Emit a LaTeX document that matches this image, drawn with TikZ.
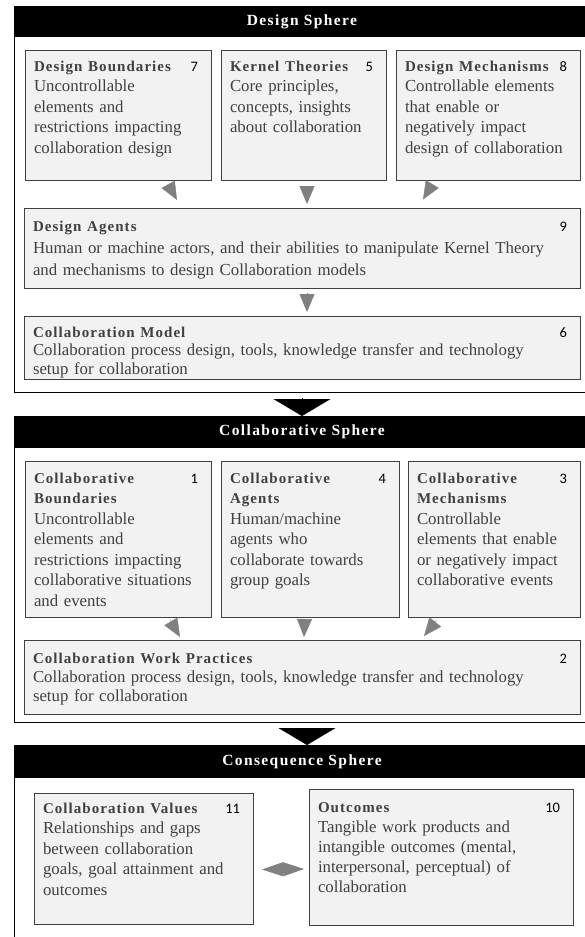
\documentclass[tikz,border=0pt]{standalone}
\usepackage{fontspec}
\setmainfont{Liberation Serif}[WordSpace=1.6]
\newfontfamily\titlefont{Liberation Serif}[LetterSpace=7, WordSpace=1.3]
\newfontfamily\headfont{Liberation Serif}[LetterSpace=9]
\newfontfamily\numfont{Carlito}
\usetikzlibrary{positioning, calc}
\usetikzlibrary{arrows.meta}
\tikzset{>={Triangle[length=18pt,width=15pt]}}

\definecolor{cardfill}{HTML}{F2F2F2}
\definecolor{cardline}{HTML}{404040}
\definecolor{cardtext}{HTML}{404040}
\definecolor{arrowgray}{HTML}{808080}

\newcommand{\cardtitle}[1]{{\titlefont\bfseries\fontsize{15}{20}\selectfont #1}}
\newcommand{\cardnum}[1]{\hfill\llap{\numfont\fontsize{14.5}{20}\selectfont\color{black}#1\hspace{4pt}}}

\begin{document}
\begin{tikzpicture}[x=1pt, y=-1pt, sphere/.style={draw=black, line width=0.8pt, anchor=north west, minimum width=576pt, inner sep=0pt, outer sep=0pt}, spherehead/.style={fill=black, text=white, anchor=north west, minimum width=576pt, inner sep=0pt, outer sep=0pt, font=\headfont\bfseries\fontsize{15.5}{18}\selectfont}, card/.style={draw=cardline, fill=cardfill, line width=0.9pt, anchor=north west, inner xsep=9pt, inner ysep=0pt, outer sep=0pt, align=left, text=cardtext, font=\fontsize{16.8}{20.5}\selectfont}, spherearrow/.style={-{Triangle[length=17pt,width=57pt]}, black}]

    \useasboundingbox (0,0) rectangle (585,937);
    \clip (0,0) rectangle (585,937);

    %Spheres
    \node[sphere, minimum height=386pt](dframe) at (14,6){};
    \node[spherehead, minimum height=31pt](dhead) at (14,6){Design Sphere};
    \node[sphere, minimum height=306pt](cframe) at (14,416){};
    \node[spherehead, minimum height=32pt](chead) at (14,416){Collaborative Sphere};
    \node[sphere, minimum height=230pt](qframe) at (14,745){};
    \node[spherehead, minimum height=33pt](qhead) at (14,745){Consequence Sphere};

    %Nodes
    \node[card, text width=168pt, text height=21pt, text depth=109pt](bound) at (25,50){\cardtitle{Design Boundaries}\cardnum{7}\\ Uncontrollable\\ elements and\\ restrictions impacting\\ collaboration design};
    \node[card, right=10pt of bound, text width=147pt, text height=21pt, text depth=109pt](kernel){\cardtitle{Kernel Theories}\cardnum{5}\\ Core principles,\\ concepts, insights\\ about collaboration};
    \node[card, right=10pt of kernel, text width=166pt, text height=21pt, text depth=109pt](mech){\cardtitle{Design Mechanisms}\cardnum{8}\\ Controllable elements\\ that enable or\\ negatively impact\\ design of collaboration};
    \node[card, text width=538pt, text height=23pt, text depth=57pt, font=\fontsize{16.8}{22}\selectfont](agents) at (24,208){\cardtitle{Design Agents}\cardnum{9}\\ Human or machine actors, and their abilities to manipulate Kernel Theory\\ and mechanisms to design Collaboration models};
    \node[card, text width=538pt, text height=21pt, text depth=42pt, font=\fontsize{16.8}{18.5}\selectfont](model) at (24,316){\cardtitle{Collaboration Model}\cardnum{6}\\ Collaboration process design, tools, knowledge transfer and technology\\ setup for collaboration};

    \node[card, text width=168pt, text height=22pt, text depth=134pt](cbound) at (25,461){\cardtitle{Collaborative}\cardnum{1}\\ \cardtitle{Boundaries}\\ Uncontrollable\\ elements and\\ restrictions impacting\\ collaborative situations\\ and events};
    \node[card, right=10pt of cbound, text width=160pt, text height=22pt, text depth=134pt](cagents){\cardtitle{Collaborative}\cardnum{4}\\ \cardtitle{Agents}\\ Human/machine\\ agents who\\ collaborate towards\\ group goals};
    \node[card, right=9pt of cagents, text width=154pt, text height=22pt, text depth=134pt](cmech){\cardtitle{Collaborative}\cardnum{3}\\ \cardtitle{Mechanisms}\\ Controllable\\ elements that enable\\ or negatively impact\\ collaborative events};
    \node[card, text width=538pt, text height=23pt, text depth=51pt, font=\fontsize{16.8}{19}\selectfont](practice) at (24,640){\cardtitle{Collaboration Work Practices}\cardnum{2}\\ Collaboration process design, tools, knowledge transfer and technology\\ setup for collaboration};

    \node[card, text width=201pt, text height=20pt, text depth=111pt](values) at (34,793){\cardtitle{Collaboration Values}\cardnum{11}\\ Relationships and gaps\\ between collaboration\\ goals, goal attainment and\\ outcomes};
    \node[card, text width=246pt, text height=23pt, text depth=113pt, font=\fontsize{16.8}{20}\selectfont](outcomes) at (309,789){\cardtitle{Outcomes}\cardnum{10}\\ Tangible work products and\\ intangible outcomes (mental,\\ interpersonal, perceptual) of\\ collaboration};

    %Lines
    \draw[->, arrowgray] ($(bound.south east)+(-43,4)$) -- ($(agents.north west)+(153,-8)$);
    \draw[->, arrowgray] ($(kernel.south)+(3.5,6)$) -- ($(agents.north)+(5,-4)$);
    \draw[->, arrowgray] ($(mech.south west)+(36,4.5)$) -- ($(agents.north east)+(-157,-8.5)$);
    \draw[->, arrowgray] ($(agents.south)+(5,5)$) -- ($(model.north)+(5,-4)$);
    \draw[spherearrow] ($(dframe.south)+(0,6)$) -- (chead.north);

    \draw[->, arrowgray] ($(cbound.south east)+(-41,3)$) -- ($(practice.north west)+(156,-3)$);
    \draw[->, arrowgray] ($(cagents.south)+(-5.5,2)$) -- ($(practice.north)+(2,-3)$);
    \draw[->, arrowgray] ($(cmech.south west)+(28.5,3.5)$) -- ($(practice.north east)+(-156,-4)$);
    \draw[spherearrow] ($(cframe.south)+(5,6)$) -- ($(qhead.north)+(5,0)$);

    \draw[{Triangle[length=21pt,width=14pt]}-{Triangle[length=21pt,width=14pt]}, arrowgray] ($(values.east)+(9,11)$) -- ($(outcomes.west)+(-5,12)$);

\end{tikzpicture}
\end{document}
